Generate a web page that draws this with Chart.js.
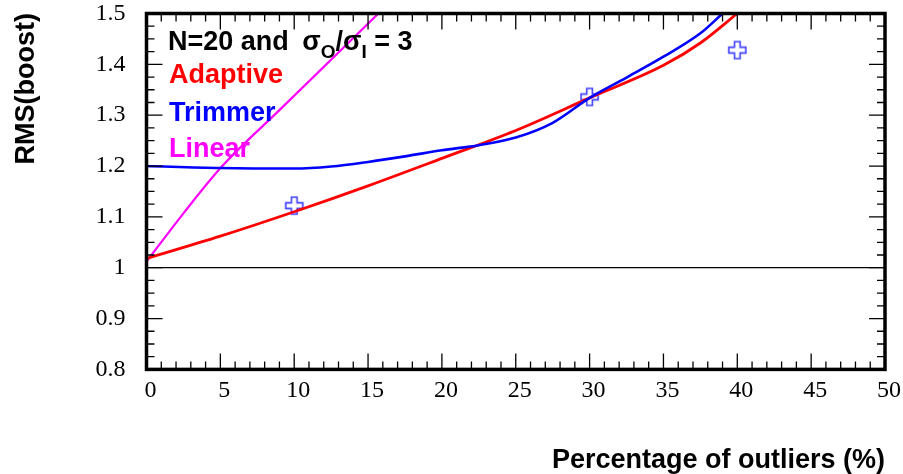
<!DOCTYPE html>
<html>
<head>
<meta charset="utf-8">
<script src="https://cdn.jsdelivr.net/npm/chart.js@4"></script>
<style>
  html, body { margin: 0; padding: 0; background: #fff; }
  #wrap { width: 903px; height: 474px; position: relative; }
</style>
</head>
<body>
<div id="wrap"><canvas id="c" width="903" height="474"></canvas></div>
<script>
// ---- data ----
const xTickValues = [0, 5, 10, 15, 20, 25, 30, 35, 40, 45, 50];
const yTickLabels = ['0.8', '0.9', '1', '1.1', '1.2', '1.3', '1.4', '1.5'];

const adaptiveX = [0, 5, 10, 15, 20, 25, 30, 35, 37.5, 40];
const adaptiveY = [1.018, 1.062, 1.110, 1.161, 1.215, 1.270, 1.334, 1.398, 1.442, 1.500];

const trimmerX = [0, 5, 10, 12.5, 15, 17.5, 20, 22.5, 25, 27.5, 30, 32.5, 35, 37.5, 39];
const trimmerY = [1.200, 1.196, 1.195, 1.199, 1.208, 1.219, 1.231, 1.241, 1.256, 1.285, 1.334, 1.374, 1.415, 1.461, 1.500];

const linearX = [0, 2.5, 5.1, 9, 15.7];
const linearY = [1.012, 1.107, 1.199, 1.310, 1.500];

const markerX = [10, 30, 40];
const markerY = [1.122, 1.336, 1.428];

const refLineX = [0, 50];
const refLineY = [1, 1];

const legendLabels = ['Adaptive', 'Trimmer', 'Linear'];
const xTitle = 'Percentage of outliers (%)';
const yTitle = 'RMS(boost)';

// ---- helpers ----
const pts = (xs, ys) => xs.map((x, i) => ({ x: x, y: ys[i] }));
const sansBold = 'bold 27px "Liberation Sans", Arial, sans-serif';

function openCross(size, color) {
  const c = document.createElement('canvas');
  c.width = size + 4; c.height = size + 4;
  const g = c.getContext('2d');
  const m = (size + 4) / 2, h = size / 2, w = size / 6;
  g.strokeStyle = color; g.lineWidth = 1.6;
  g.beginPath();
  g.moveTo(m - w, m - h); g.lineTo(m + w, m - h); g.lineTo(m + w, m - w);
  g.lineTo(m + h, m - w); g.lineTo(m + h, m + w); g.lineTo(m + w, m + w);
  g.lineTo(m + w, m + h); g.lineTo(m - w, m + h); g.lineTo(m - w, m + w);
  g.lineTo(m - h, m + w); g.lineTo(m - h, m - w); g.lineTo(m - w, m - w);
  g.closePath(); g.stroke();
  return c;
}

const framePlugin = {
  id: 'frame',
  afterDatasetsDraw(chart) {
    const { ctx, chartArea: a, scales: { x, y } } = chart;
    ctx.save();
    ctx.strokeStyle = '#000';
    ctx.lineWidth = 1.3;
    ctx.beginPath();
    for (let v = 0; v <= 50.001; v += 1) {
      const px = x.getPixelForValue(v);
      const len = (Math.abs(v % 5) < 1e-6) ? 16 : 8;
      ctx.moveTo(px, a.bottom); ctx.lineTo(px, a.bottom - len);
      ctx.moveTo(px, a.top); ctx.lineTo(px, a.top + len);
    }
    for (let k = 0; k <= 28; k++) {
      const v = 0.8 + k * 0.025;
      const py = y.getPixelForValue(v);
      const len = (k % 4 === 0) ? 16 : 8;
      ctx.moveTo(a.left, py); ctx.lineTo(a.left + len, py);
      ctx.moveTo(a.right, py); ctx.lineTo(a.right - len, py);
    }
    ctx.stroke();
    ctx.lineWidth = 3.5;
    ctx.strokeRect(a.left, a.top, a.right - a.left, a.bottom - a.top);
    ctx.restore();
  },
  afterDraw(chart) {
    const ctx = chart.ctx;
    ctx.save();
    // y axis title
    ctx.save();
    ctx.translate(33.5, 13);
    ctx.rotate(-Math.PI / 2);
    ctx.font = sansBold;
    ctx.fillStyle = '#000';
    ctx.textAlign = 'right';
    ctx.textBaseline = 'alphabetic';
    ctx.fillText(yTitle, 0, 0);
    ctx.restore();
    // annotation
    ctx.textBaseline = 'alphabetic';
    ctx.textAlign = 'left';
    const sub = 'bold 19px "Liberation Sans", Arial, sans-serif';
    let x = 168, base = 50;
    ctx.fillStyle = '#000';
    const put = (t, f, dy) => { ctx.font = f; ctx.fillText(t, x, base + dy); x += ctx.measureText(t).width; };
    put('N=20 and ', sansBold, 0);
    x += 6;
    put('σ', sansBold, 0);
    put('O', sub, 8);
    put('/', sansBold, 0);
    put('σ', sansBold, 0);
    put('I', sub, 8);
    put(' = 3', sansBold, 0);
    ctx.font = sansBold;
    const colors = ['#ff0000', '#0000ff', '#ff00ff'];
    const bases = [83, 121, 157];
    legendLabels.forEach((t, i) => { ctx.fillStyle = colors[i]; ctx.fillText(t, 169, bases[i]); });
    ctx.restore();
  }
};

const serif = { family: '"Liberation Serif", "Times New Roman", serif', size: 24, lineHeight: 1.0 };

new Chart(document.getElementById('c'), {
  type: 'scatter',
  data: {
    datasets: [
      { data: pts(refLineX, refLineY), showLine: true, borderColor: '#000', borderWidth: 1.2, pointRadius: 0 },
      { label: legendLabels[1], data: pts(trimmerX, trimmerY), showLine: true, borderColor: '#0000ff', borderWidth: 2.6, pointRadius: 0, cubicInterpolationMode: 'monotone' },
      { label: legendLabels[0], data: pts(adaptiveX, adaptiveY), showLine: true, borderColor: '#ff0000', borderWidth: 2.8, pointRadius: 0, cubicInterpolationMode: 'monotone' },
      { label: legendLabels[2], data: pts(linearX, linearY), showLine: true, borderColor: '#ff00ff', borderWidth: 2.2, pointRadius: 0, cubicInterpolationMode: 'monotone' },
      { data: pts(markerX, markerY), showLine: false, pointStyle: openCross(17, '#4040ff'), pointRadius: 9 }
    ]
  },
  options: {
    responsive: false,
    animation: false,
    events: [],
    layout: { autoPadding: false, padding: { left: 0, top: 13.5, right: 18, bottom: 0 } },
    plugins: { legend: { display: false }, tooltip: { enabled: false } },
    scales: {
      x: {
        type: 'linear', position: 'bottom', min: 0, max: 50,
        afterBuildTicks: s => { s.ticks = xTickValues.map(v => ({ value: v })); },
        afterFit: s => { s.height = 104.6; },
        grid: { display: false, drawTicks: true, tickLength: 9 },
        border: { display: false },
        ticks: { color: '#000', font: serif, padding: 0, labelOffset: 4, maxRotation: 0, autoSkip: false, callback: v => String(v) },
        title: { display: true, text: xTitle, align: 'end', color: '#000',
                 font: { family: '"Liberation Sans", Arial, sans-serif', size: 27, weight: 'bold' },
                 padding: { top: 0, bottom: -3 } }
      },
      y: {
        type: 'linear', position: 'left', min: 0.8, max: 1.5,
        afterBuildTicks: s => { s.ticks = yTickLabels.map(t => ({ value: parseFloat(t) })); },
        afterFit: s => { s.width = 146.5; },
        grid: { display: false, drawTicks: true, tickLength: 21 },
        border: { display: false },
        ticks: { color: '#000', font: serif, padding: 0, autoSkip: false,
                 callback: (v, i) => yTickLabels[i] }
      }
    }
  },
  plugins: [framePlugin]
});
</script>
</body>
</html>
